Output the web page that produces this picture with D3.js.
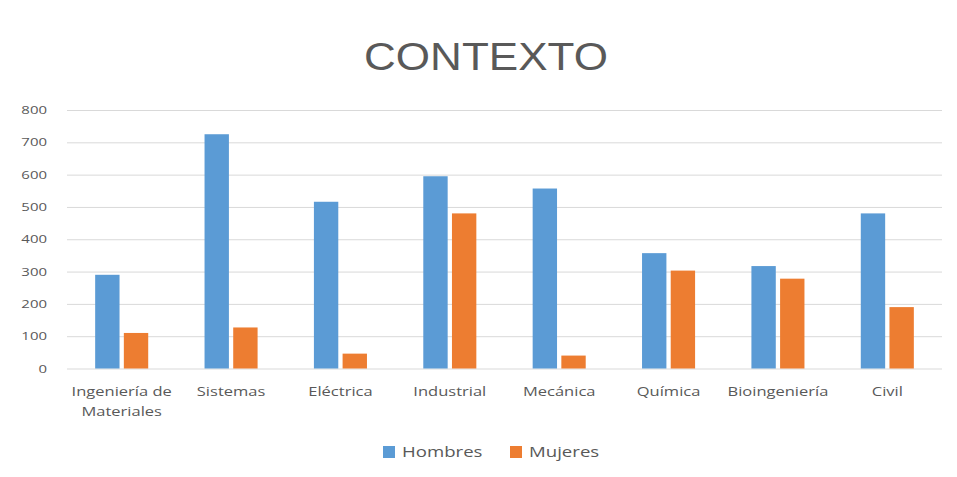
<!DOCTYPE html>
<html><head><meta charset="utf-8">
<script src="https://cdn.jsdelivr.net/npm/d3@7"></script>
<style>body{margin:0;background:#fff}svg{display:block}text{font-family:"Open Sans","Liberation Sans",sans-serif}</style>
</head><body><svg id="c" width="957" height="477"></svg>
<script>
const categories = ["Ingeniería de Materiales","Sistemas","Eléctrica","Industrial","Mecánica","Química","Bioingeniería","Civil"];
const seriesNames = ["Hombres","Mujeres"];
const hombres = [290,725,516,595,557,357,317,480];
const mujeres = [110,127,46,480,40,303,278,190];
const yTicks = [0,100,200,300,400,500,600,700,800];
const colors = ["#5B9BD5","#ED7D31"];

(function(){
const svg = d3.select("#c");
const pl = 67, pr = 942, pt = 110, pb = 368.5;
const x = d3.scaleBand().domain(categories).range([pl,pr]).paddingInner(0.515).paddingOuter(0.2575);
const x1 = d3.scaleBand().domain(seriesNames).range([0,x.bandwidth()]).paddingInner(0.15);
const y = d3.scaleLinear().domain([0,800]).range([pb,pt]);
const data = [hombres, mujeres];

function stext(parent, tx, ty, sx, size, anchor, str){
  return parent.append("text").attr("transform",`translate(${tx},${ty}) scale(${sx},1)`)
    .attr("text-anchor",anchor).attr("font-size",size).attr("fill","#595959").text(str);
}

stext(svg,486,70,1.13,39,"middle","CONTEXTO").style("font-family","'Liberation Sans',Arial,sans-serif");

const ya = d3.axisLeft(y).tickValues(yTicks).tickSize(-(pr-pl)).tickFormat("");
const g = svg.append("g").attr("transform",`translate(${pl},0)`).call(ya);
g.select(".domain").remove();
g.selectAll(".tick line").attr("stroke","#D9D9D9").attr("stroke-width",1);
yTicks.forEach(v=>stext(svg,47,y(v)+4,1.3,11.5,"end",d3.format("d")(v)));

const groups = svg.append("g").selectAll("g").data(categories).join("g")
  .attr("transform",d=>`translate(${x(d)},0)`);
seriesNames.forEach((s,i)=>{
  groups.append("rect").attr("x",x1(s)).attr("width",x1.bandwidth())
    .attr("y",(d,j)=>y(data[i][j])).attr("height",(d,j)=>y(0)-y(data[i][j]))
    .attr("fill",colors[i]);
});

categories.forEach(c=>{
  const cx = x(c)+x.bandwidth()/2;
  const words = c === "Ingeniería de Materiales" ? ["Ingeniería de","Materiales"] : [c];
  words.forEach((w,k)=>stext(svg,cx,396+k*20,1.27,13,"middle",w));
});

const legX = [383,510];
seriesNames.forEach((s,i)=>{
  svg.append("rect").attr("x",legX[i]).attr("y",446).attr("width",12).attr("height",12).attr("fill",colors[i]);
  stext(svg,legX[i]+19,457,1.33,14,"start",s);
});
})();
</script></body></html>
